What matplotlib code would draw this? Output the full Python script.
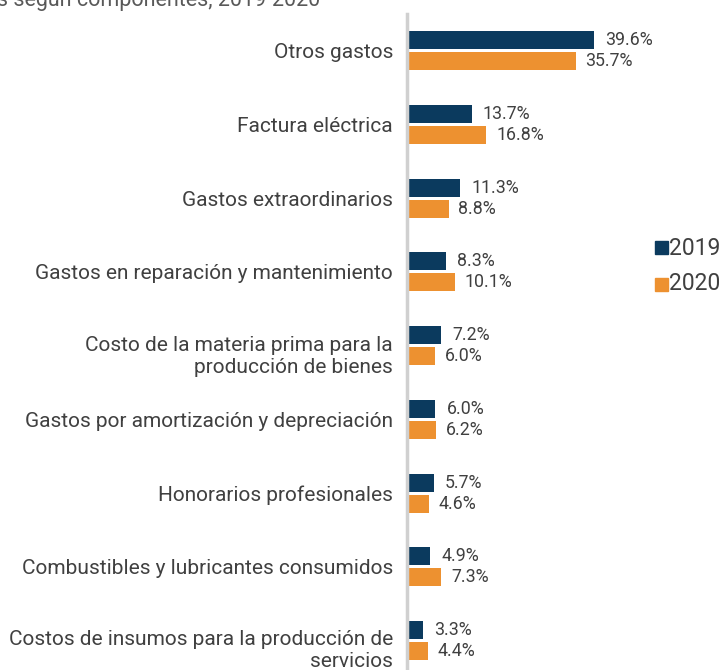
import matplotlib
matplotlib.use("Agg")
import matplotlib.pyplot as plt
import matplotlib.transforms as mtransforms
import numpy as np

plt.rcParams['font.family'] = ['Roboto', 'DejaVu Sans']

categories = [
    "Otros gastos",
    "Factura eléctrica",
    "Gastos extraordinarios",
    "Gastos en reparación y mantenimiento",
    "Costo de la materia prima para la\nproducción de bienes",
    "Gastos por amortización y depreciación",
    "Honorarios profesionales",
    "Combustibles y lubricantes consumidos",
    "Costos de insumos para la producción de\nservicios",
]
values_2019 = [39.6, 13.7, 11.3, 8.3, 7.2, 6.0, 5.7, 4.9, 3.3]
values_2020 = [35.7, 16.8, 8.8, 10.1, 6.0, 6.2, 4.6, 7.3, 4.4]
series_labels = ["2019", "2020"]
title = "Estructura de otros gastos según componentes, 2019-2020"

c2019 = "#0B3A5E"
c2020 = "#ED9130"
text_c = "#404040"

W, H = 720, 670
fig = plt.figure(figsize=(7.2, 6.7), dpi=100)
ax_left, ax_right = 407, 700
ax_top, ax_bot = 14, 670
ax = fig.add_axes([ax_left / W, 1 - ax_bot / H, (ax_right - ax_left) / W, (ax_bot - ax_top) / H])

spacing = 73.7
y = np.arange(len(categories))
bh = 18 / spacing
off = 10.5 / spacing
ax.barh(y - off, values_2019, height=bh, color=c2019, label=series_labels[0])
ax.barh(y + off, values_2020, height=bh, color=c2020, label=series_labels[1])

ax.set_ylim(-0.5 + (ax_bot - ax_top) / spacing, -0.5)
ax.set_xlim(0, (ax_right - ax_left) / 4.72)

for yi, v in zip(y, values_2019):
    ax.annotate(f"{v:.1f}%", (v, yi - off), xytext=(8, 0), textcoords="offset points",
                va="center", ha="left", fontsize=12.8, color=text_c)
for yi, v in zip(y, values_2020):
    ax.annotate(f"{v:.1f}%", (v, yi + off), xytext=(7, 0), textcoords="offset points",
                va="center", ha="left", fontsize=12.8, color=text_c)

# category labels (first line centred on the group)
ax.set_yticks([])
lab_tr = mtransforms.blended_transform_factory(ax.transAxes, ax.transData)
for yi, lab in zip(y, categories):
    if "\n" in lab:
        tr = lab_tr + mtransforms.ScaledTranslation(-14 / 100, 10 / 100, fig.dpi_scale_trans)
        ax.text(0, yi, lab, transform=tr, ha="right", va="top", fontsize=15,
                color=text_c, linespacing=1.2, multialignment="right")
    else:
        tr = lab_tr + mtransforms.ScaledTranslation(-14 / 100, -2 / 100, fig.dpi_scale_trans)
        ax.text(0, yi, lab, transform=tr, ha="right", va="center", fontsize=15, color=text_c)

ax.set_xticks([])
for s in ["top", "right", "bottom"]:
    ax.spines[s].set_visible(False)
ax.spines["left"].set_color("#d0d0d0")
ax.spines["left"].set_linewidth(2.5)
ax.set_facecolor("none")

# legend
for i, (lab, col) in enumerate(zip(series_labels, [c2019, c2020])):
    yy = 248 + i * 36
    fig.patches.append(plt.Rectangle((655 / W, 1 - (yy + 6.5) / H), 13 / W, 13 / H,
                                     transform=fig.transFigure, color=col, figure=fig))
    fig.text(669 / W, 1 - yy / H, lab, fontsize=16.5, color=text_c, va="center", ha="left")

fig.text(320 / W, 1 - 6 / H, title, fontsize=15.5, color="#595959", ha="right", va="baseline")

fig.savefig("out.png", dpi=100)
